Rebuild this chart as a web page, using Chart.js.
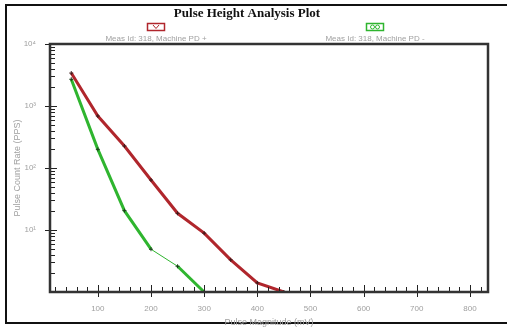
<!DOCTYPE html>
<html>
<head>
<meta charset="utf-8">
<script src="https://cdn.jsdelivr.net/npm/chart.js@4/dist/chart.umd.min.js"></script>
<style>
  html, body { margin: 0; padding: 0; background: #fff; }
  #wrap { width: 507px; height: 328px; }
</style>
</head>
<body>
<div id="wrap"><canvas id="pha"></canvas></div>
<script>
// pulse magnitudes (mV) and count rates (PPS)
const posMagnitude = [50, 100, 150, 200, 250, 300, 350, 400, 450];
const posRate = [3400, 690, 226, 64, 18.6, 8.9, 3.3, 1.4, 1.0];
const negMagnitude = [50, 100, 150, 200, 250, 300];
const negRate = [2700, 200, 20.5, 4.9, 2.6, 1.0];

const xTickValues = [100, 200, 300, 400, 500, 600, 700, 800];
const yTickValues = [10, 100, 1000, 10000];
const seriesLabels = ['Meas Id: 318, Machine PD +', 'Meas Id: 318, Machine PD -'];

const supers = { 0: '\u2070', 1: '\u00b9', 2: '\u00b2', 3: '\u00b3', 4: '\u2074' };
const grey = '#a0a0a0';

function toPoints(xs, ys) {
  return xs.map((x, i) => ({ x: x, y: ys[i] }));
}

// outer frame, plot box, tick marks and the stacked legend
const decorPlugin = {
  id: 'decor',
  beforeDraw(chart) {
    const ctx = chart.ctx;
    ctx.save();
    ctx.fillStyle = '#fff';
    ctx.fillRect(0, 0, chart.width, chart.height);
    ctx.strokeStyle = '#111';
    ctx.lineWidth = 2;
    ctx.strokeRect(6, 5, 520, 318);
    ctx.restore();
  },
  afterDraw(chart) {
    const ctx = chart.ctx;
    const a = chart.chartArea;
    const xs = chart.scales.x;
    const ys = chart.scales.y;
    ctx.save();
    ctx.strokeStyle = '#222';
    ctx.lineWidth = 1;
    ctx.beginPath();
    // x ticks: minor every 20 mV inside, majors crossing the axis
    for (let v = 20; v <= xs.max; v += 20) {
      const px = Math.round(xs.getPixelForValue(v)) + 0.5;
      if (px <= a.left + 1 || px >= a.right - 1) continue;
      if (v % 100 === 0) {
        ctx.moveTo(px, a.bottom + 5);
        ctx.lineTo(px, a.bottom - 7);
      } else {
        ctx.moveTo(px, a.bottom);
        ctx.lineTo(px, a.bottom - 5);
      }
    }
    // y ticks: log minors inside, decades crossing the axis
    for (let d = 1; d < 10000; d *= 10) {
      for (let m = 1; m < 10; m++) {
        const v = d * m;
        const py = Math.round(ys.getPixelForValue(v)) + 0.5;
        if (m === 1) {
          if (v === 1) continue;
          ctx.moveTo(a.left - 5, py);
          ctx.lineTo(a.left + 7, py);
        } else {
          ctx.moveTo(a.left, py);
          ctx.lineTo(a.left + 5, py);
        }
      }
    }
    const topY = Math.round(ys.getPixelForValue(10000)) + 0.5;
    ctx.moveTo(a.left - 5, topY);
    ctx.lineTo(a.left + 7, topY);
    ctx.stroke();

    // plot box
    ctx.strokeStyle = '#333';
    ctx.lineWidth = 2.5;
    ctx.strokeRect(a.left, a.top, a.right - a.left, a.bottom - a.top);

    // legend: marker box above each series label
    const centers = [156, 375];
    ctx.font = '8px "Liberation Sans", Arial, sans-serif';
    ctx.textAlign = 'center';
    ctx.textBaseline = 'middle';
    chart.data.datasets.forEach((ds, i) => {
      const cx = centers[i];
      ctx.strokeStyle = ds.borderColor;
      ctx.lineWidth = 1.5;
      ctx.strokeRect(cx - 8.5, 23.5, 17, 7);
      ctx.lineWidth = 1;
      ctx.beginPath();
      if (i === 0) {
        ctx.moveTo(cx - 3, 25);
        ctx.lineTo(cx, 28.5);
        ctx.lineTo(cx + 3, 25);
      } else {
        ctx.arc(cx - 2.5, 27, 2, 0, Math.PI * 2);
        ctx.moveTo(cx + 4.5, 27);
        ctx.arc(cx + 2.5, 27, 2, 0, Math.PI * 2);
      }
      ctx.stroke();
      ctx.fillStyle = grey;
      ctx.fillText(ds.label, cx, 38.5);
    });
    ctx.restore();
  }
};

new Chart(document.getElementById('pha'), {
  type: 'line',
  data: {
    datasets: [
      {
        label: seriesLabels[0],
        data: toPoints(posMagnitude, posRate),
        borderColor: '#b0262c',
        borderWidth: 3,
        pointStyle: 'cross',
        pointRadius: 2,
        pointBorderColor: '#3a1a1a',
        pointBorderWidth: 1,
        tension: 0
      },
      {
        label: seriesLabels[1],
        data: toPoints(negMagnitude, negRate),
        borderColor: '#2fb52f',
        borderWidth: 3,
        pointStyle: 'cross',
        pointRadius: 2,
        pointBorderColor: '#1a3a1a',
        pointBorderWidth: 1,
        tension: 0,
        segment: {
          borderWidth: c => (c.p0DataIndex === 3 ? 1 : 3)
        }
      }
    ]
  },
  options: {
    responsive: true,
    maintainAspectRatio: false,
    animation: false,
    layout: { padding: { top: 0, right: 19, left: 6, bottom: 0 } },
    plugins: {
      legend: { display: false },
      tooltip: { enabled: false },
      title: {
        display: true,
        text: 'Pulse Height Analysis Plot',
        color: '#111',
        font: { family: '"Liberation Serif", "DejaVu Serif", serif', size: 13, weight: 'bold', lineHeight: 1.2 },
        padding: { top: 6, bottom: 22.4 },
        position: 'top',
        fullSize: true
      }
    },
    scales: {
      x: {
        type: 'linear',
        min: 10,
        max: 834,
        grid: { display: false, drawTicks: false },
        border: { display: false },
        afterBuildTicks: s => { s.ticks = xTickValues.map(v => ({ value: v })); },
        afterFit: s => { s.height = 36; },
        ticks: {
          color: grey,
          padding: 12,
          maxRotation: 0,
          font: { family: '"Liberation Sans", Arial, sans-serif', size: 8 }
        },
        title: {
          display: true,
          text: 'Pulse Magnitude (mV)',
          color: grey,
          padding: 0,
          font: { family: '"Liberation Sans", Arial, sans-serif', size: 9 }
        }
      },
      y: {
        type: 'logarithmic',
        min: 1,
        max: 10000,
        grid: { display: false, drawTicks: false },
        border: { display: false },
        afterBuildTicks: s => { s.ticks = yTickValues.map(v => ({ value: v })); },
        afterFit: s => { s.width = 44; },
        ticks: {
          color: grey,
          padding: 14,
          font: { family: '"Liberation Sans", Arial, sans-serif', size: 8 },
          callback: v => '10' + supers[Math.round(Math.log10(v))]
        },
        title: {
          display: true,
          text: 'Pulse Count Rate (PPS)',
          color: grey,
          padding: 6,
          font: { family: '"Liberation Sans", Arial, sans-serif', size: 9 }
        }
      }
    }
  },
  plugins: [decorPlugin]
});
</script>
</body>
</html>
